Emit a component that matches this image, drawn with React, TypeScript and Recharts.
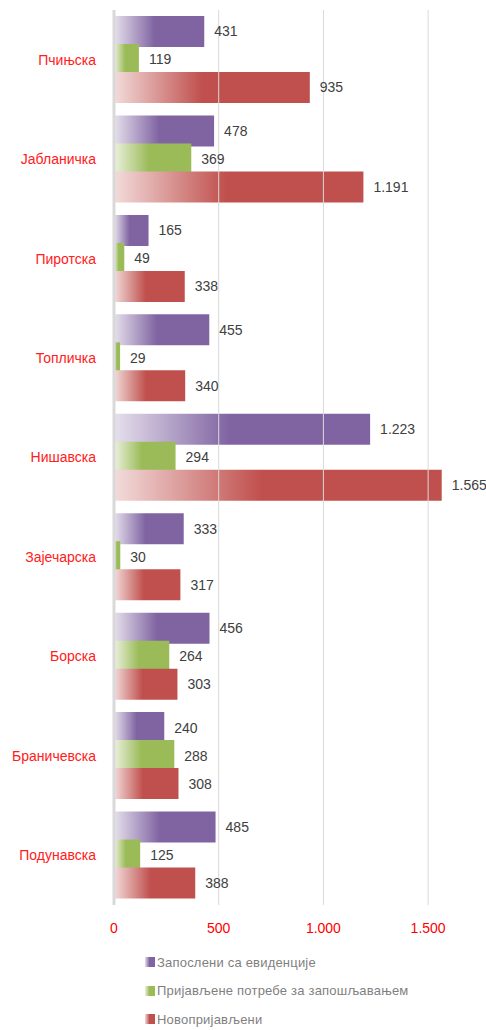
import { BarChart, Bar, XAxis, YAxis, ReferenceLine, Legend, LabelList } from 'recharts';

const districts = ['Пчињска', 'Јабланичка', 'Пиротска', 'Топличка', 'Нишавска', 'Зајечарска', 'Борска', 'Браничевска', 'Подунавска'];
const employed = [431, 478, 165, 455, 1223, 333, 456, 240, 485];
const vacancies = [119, 369, 49, 29, 294, 30, 264, 288, 125];
const newlyRegistered = [935, 1191, 338, 340, 1565, 317, 303, 308, 388];
const xTicks = [0, 500, 1000, 1500];

const SERIES = [
  { key: 'employed', name: 'Запослени са евиденције', color: '#8064A2', light: '#E6E0EC' },
  { key: 'vacancies', name: 'Пријављене потребе за запошљавањем', color: '#9BBB59', light: '#EBF1DE' },
  { key: 'newly', name: 'Новопријављени', color: '#C0504D', light: '#F2DCDB' },
];

const data = districts.map((name, i) => ({
  name,
  employed: employed[i],
  vacancies: vacancies[i],
  newly: newlyRegistered[i],
}));

// 1223 -> "1.223"
const fmt = (v: any) => String(v).replace(/\B(?=(\d{3})+(?!\d))/g, '.');

const FONT = '"Liberation Sans", Arial, sans-serif';

function GradientLegend() {
  return (
    <div style={{ paddingLeft: 145, paddingTop: 8, fontFamily: FONT, fontSize: 13, color: '#7F7F7F' }}>
      {SERIES.map((s) => (
        <div key={s.key} style={{ display: 'flex', alignItems: 'center', height: 28.5 }}>
          <span
            style={{
              display: 'inline-block',
              width: 10,
              height: 10,
              marginRight: 2,
              background: `linear-gradient(to right, ${s.light}, ${s.color} 45%)`,
            }}
          />
          <span style={{ letterSpacing: 0.2 }}>{s.name}</span>
        </div>
      ))}
    </div>
  );
}

export default function App() {
  return (
    <div style={{ position: 'absolute', left: 0, top: 0, background: '#fff' }}>
      <BarChart
        width={486}
        height={1030}
        data={data}
        layout="vertical"
        margin={{ top: 10, right: 16, bottom: 0, left: 0 }}
        barSize={31}
        barGap={-3}
        barCategoryGap={7}
      >
        <defs>
          {SERIES.map((s) => (
            <linearGradient key={s.key} id={`grad-${s.key}`} x1="0" y1="0" x2="1" y2="0">
              <stop offset="0%" stopColor={s.light} />
              <stop offset="45%" stopColor={s.color} />
              <stop offset="100%" stopColor={s.color} />
            </linearGradient>
          ))}
        </defs>
        {xTicks.slice(1).map((t) => (
          <ReferenceLine key={t} x={t} stroke="#D9D9D9" />
        ))}
        <XAxis
          type="number"
          domain={[0, 1700]}
          ticks={xTicks}
          tickFormatter={fmt}
          axisLine={false}
          tickLine={false}
          height={35}
          tickMargin={12}
          tick={{ fill: '#FF0000', fontSize: 14, fontFamily: FONT }}
        />
        <YAxis
          type="category"
          dataKey="name"
          width={114}
          axisLine={{ stroke: '#D9D9D9', strokeWidth: 3 }}
          tickLine={false}
          tickMargin={12}
          tick={{ fill: '#FF2020', fontSize: 14, fontFamily: FONT }}
        />
        <Legend verticalAlign="bottom" content={<GradientLegend />} wrapperStyle={{ height: 90 }} />
        {SERIES.map((s) => (
          <Bar key={s.key} dataKey={s.key} name={s.name} fill={`url(#grad-${s.key})`} isAnimationActive={false}>
            <LabelList
              dataKey={s.key}
              position="right"
              offset={10}
              formatter={fmt}
              style={{ fill: '#404040', fontSize: 14, fontFamily: FONT }}
            />
          </Bar>
        ))}
      </BarChart>
    </div>
  );
}
